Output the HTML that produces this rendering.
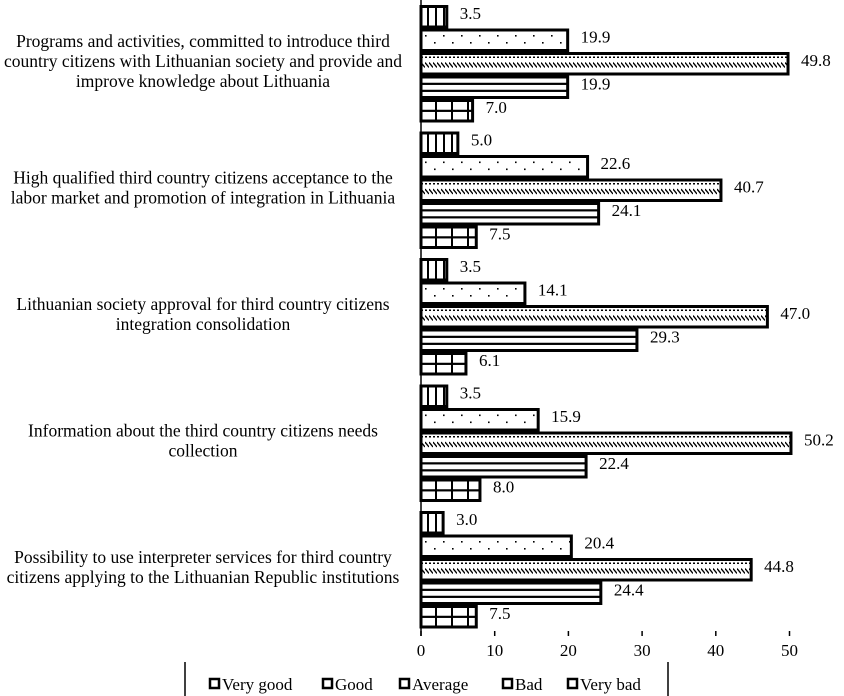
<!DOCTYPE html>
<html><head><meta charset="utf-8"><style>
body{margin:0;background:#fff}
svg{display:block;font-family:"Liberation Serif",serif}
</style></head><body>
<svg id="c" width="844" height="696">
<defs id="defs"></defs>
<g id="plot"></g>
</svg>
<script>
const categories=["Programs and activities, committed to introduce third|country citizens with Lithuanian society and provide and|improve knowledge about Lithuania","High qualified third country citizens acceptance to the|labor market and promotion of integration in Lithuania","Lithuanian society approval for third country citizens|integration consolidation","Information about the third country citizens needs|collection","Possibility to use interpreter services for third country|citizens applying to the Lithuanian Republic institutions"];
const seriesNames=["Very good","Good","Average","Bad","Very bad"];
const veryGood=[3.5,5.0,3.5,3.5,3.0];
const good=[19.9,22.6,14.1,15.9,20.4];
const average=[49.8,40.7,47.0,50.2,44.8];
const bad=[19.9,24.1,29.3,22.4,24.4];
const veryBad=[7.0,7.5,6.1,8.0,7.5];
const xTicks=[0,10,20,30,40,50];
const series=[veryGood,good,average,bad,veryBad];
const NS="http://www.w3.org/2000/svg";
const g=document.getElementById('plot');
const defs=document.getElementById('defs');
const x=v=>421+v*7.37;
const groupTop=i=>5+i*126.5;
const barH=23.5;
function mk(t,a,p){const e=document.createElementNS(NS,t);for(const k in a)e.setAttribute(k,a[k]);(p||g).appendChild(e);return e;}
let pid=0;
function pattern(k,bx,by,h){
  const id='p'+(pid++);
  let w,ph=h;
  if(k===0){w=8;}else if(k===1){w=18;}else if(k===2){w=4;}else if(k===3){w=10;}else{w=16;}
  const p=mk('pattern',{id:id,x:bx,y:by,width:w,height:ph,patternUnits:'userSpaceOnUse'},defs);
  mk('rect',{width:w,height:ph,fill:'#fff'},p);
  if(k===0){mk('rect',{x:6,y:0,width:2.2,height:ph,fill:'#000'},p);}
  else if(k===1){mk('rect',{x:4,y:5,width:1.6,height:1.6,fill:'#000'},p);mk('rect',{x:13,y:12,width:1.6,height:1.6,fill:'#000'},p);}
  else if(k===2){mk('rect',{x:0,y:3,width:2,height:1.5,fill:'#000'},p);
    mk('line',{x1:0,y1:9,x2:4,y2:14,stroke:'#000','stroke-width':1.4},p);}
  else if(k===3){mk('rect',{x:0,y:ph/2-4.5,width:w,height:2.2,fill:'#000'},p);mk('rect',{x:0,y:ph/2+2.5,width:w,height:2.2,fill:'#000'},p);}
  else{mk('rect',{x:14,y:0,width:2.2,height:ph,fill:'#000'},p);mk('rect',{x:0,y:ph/2-1,width:w,height:2.2,fill:'#000'},p);}
  return 'url(#'+id+')';
}
categories.forEach((c,i)=>{
  const lines=c.split('|');
  const cy=groupTop(i)+barH*2.5;
  const t=mk('text',{x:203,'text-anchor':'middle','font-size':17.5});
  
  
  lines.forEach((l,j)=>{const s=mk('tspan',{x:203,y:cy-(lines.length-1)*10+j*20+3},t);s.textContent=l;});
  series.forEach((s,k)=>{
    const y=groupTop(i)+k*barH;
    const fill=pattern(k,x(0),y+1.5,barH-3);
    const r=mk('rect',{x:x(0),y:y+1.5,width:x(s[i])-x(0),height:barH-3,fill:fill,stroke:'#000','stroke-width':3});
    
    
    const v=mk('text',{x:x(s[i])+13,y:y+barH/2+2,'font-size':17});
    
    
    v.textContent=s[i].toFixed(1);
  });
});
const ax=mk('line',{x1:x(0),y1:0,x2:x(0),y2:636,stroke:'#000','stroke-width':1.5});


xTicks.forEach(v=>{
  const tk=mk('line',{x1:x(v),y1:631,x2:x(v),y2:636,stroke:'#000','stroke-width':1.5});
  
  
  const tl=mk('text',{x:x(v),y:656,'text-anchor':'middle','font-size':17});
  
  
  tl.textContent=v;
});
const lb=mk('g',{});


mk('line',{x1:185,y1:662,x2:185,y2:696,stroke:'#000','stroke-width':1.5},lb);
mk('line',{x1:668,y1:662,x2:668,y2:696,stroke:'#000','stroke-width':1.5},lb);
const lx=[210,323,400,503,568];
seriesNames.forEach((n,k)=>{
  const e=mk('g',{},lb);
  
  
  mk('rect',{x:lx[k],y:679,width:9,height:9,fill:'#fff',stroke:'#000','stroke-width':2.5},e);
  const t=mk('text',{x:lx[k]+12,y:690,'font-size':17},e);
  t.textContent=n;
});
</script>
</body></html>
